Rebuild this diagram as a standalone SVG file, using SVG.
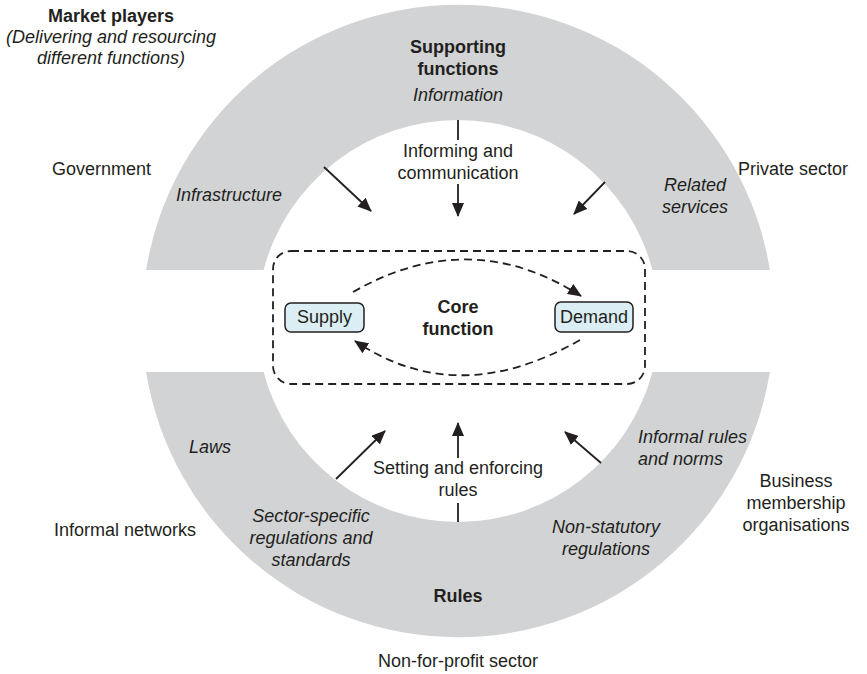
<svg xmlns="http://www.w3.org/2000/svg" width="867" height="674" viewBox="0 0 867 674">
<defs>
<style>
text{font-family:"Liberation Sans",Arial,sans-serif;font-size:18px;fill:#231f20}
.b{font-weight:bold}
.i{font-style:italic}
.m{text-anchor:middle}
.ring{fill:#d1d3d4}
.ln{stroke:#231f20;stroke-width:1.8;fill:none}
.dash{stroke:#231f20;stroke-width:1.8;fill:none;stroke-dasharray:8 5}
.box{fill:#daeef3;stroke:#231f20;stroke-width:1.5}
</style>
<marker id="ah" viewBox="0 0 14 12" refX="13" refY="6" markerWidth="14" markerHeight="12" markerUnits="userSpaceOnUse" orient="auto">
<path d="M0,0 L14,6 L0,12 z" fill="#231f20"/>
</marker>
</defs>
<rect width="867" height="674" fill="#ffffff"/>
<g id="ring-supporting">
<path class="ring" d="M146.1 270 A316 316 0 0 1 769.9 270 L652.4 270 A201 201 0 0 0 263.6 270 Z"/>
<text class="b m" x="458" y="53">Supporting</text>
<text class="b m" x="458" y="75">functions</text>
<text class="i m" x="458" y="101">Information</text>
<text class="i m" x="229" y="201">Infrastructure</text>
<text class="i m" x="695" y="191">Related</text>
<text class="i m" x="695" y="213">services</text>
</g>
<g id="ring-rules">
<path class="ring" d="M146.1 372 A316 316 0 0 0 769.9 372 L652.4 372 A201 201 0 0 1 263.6 372 Z"/>
<text class="i m" x="210" y="453">Laws</text>
<text class="i" x="638" y="443">Informal rules</text>
<text class="i" x="638" y="465">and norms</text>
<text class="i m" x="311" y="522">Sector-specific</text>
<text class="i m" x="311" y="544">regulations and</text>
<text class="i m" x="311" y="566">standards</text>
<text class="i m" x="606" y="533">Non-statutory</text>
<text class="i m" x="606" y="555">regulations</text>
<text class="b m" x="458" y="602">Rules</text>
</g>
<g id="market-players">
<text class="b m" x="111" y="22">Market players</text>
<text class="i m" x="111" y="43">(Delivering and resourcing</text>
<text class="i m" x="111" y="64">different functions)</text>
</g>
<g id="government"><text x="52" y="175">Government</text></g>
<g id="private-sector"><text x="738" y="175">Private sector</text></g>
<g id="informal-networks"><text x="54" y="536">Informal networks</text></g>
<g id="business-membership">
<text class="m" x="796" y="487">Business</text>
<text class="m" x="796" y="509">membership</text>
<text class="m" x="796" y="531">organisations</text>
</g>
<g id="non-profit"><text class="m" x="458" y="667">Non-for-profit sector</text></g>
<g id="informing-label">
<text class="m" x="458" y="157">Informing and</text>
<text class="m" x="458" y="179">communication</text>
</g>
<g id="setting-label">
<text class="m" x="458" y="474">Setting and enforcing</text>
<text class="m" x="458" y="496">rules</text>
</g>
<g id="core-function">
<rect class="dash" x="273" y="251" width="372" height="133" rx="18"/>
<text class="b m" x="458" y="313">Core</text>
<text class="b m" x="458" y="335">function</text>
</g>
<g id="supply">
<rect class="box" x="285" y="303" width="79" height="29" rx="6"/>
<text class="m" x="324.5" y="323">Supply</text>
</g>
<g id="demand">
<rect class="box" x="555" y="302" width="78" height="30" rx="6"/>
<text class="m" x="594" y="323">Demand</text>
</g>
<g id="connectors">
<line class="ln" x1="458" y1="120" x2="458" y2="140"/>
<line class="ln" x1="458" y1="184" x2="458" y2="216" marker-end="url(#ah)"/>
<line class="ln" x1="324" y1="167" x2="371" y2="211" marker-end="url(#ah)"/>
<line class="ln" x1="605" y1="182" x2="574" y2="214" marker-end="url(#ah)"/>
<line class="ln" x1="458" y1="522" x2="458" y2="503"/>
<line class="ln" x1="458" y1="458" x2="458" y2="423" marker-end="url(#ah)"/>
<line class="ln" x1="336" y1="479" x2="385" y2="431" marker-end="url(#ah)"/>
<line class="ln" x1="601" y1="463" x2="565" y2="432" marker-end="url(#ah)"/>
<path class="dash" d="M353 292 Q470 225 581 296" marker-end="url(#ah)"/>
<path class="dash" d="M580 340 Q457 410 355 341" marker-end="url(#ah)"/>
</g>
</svg>
